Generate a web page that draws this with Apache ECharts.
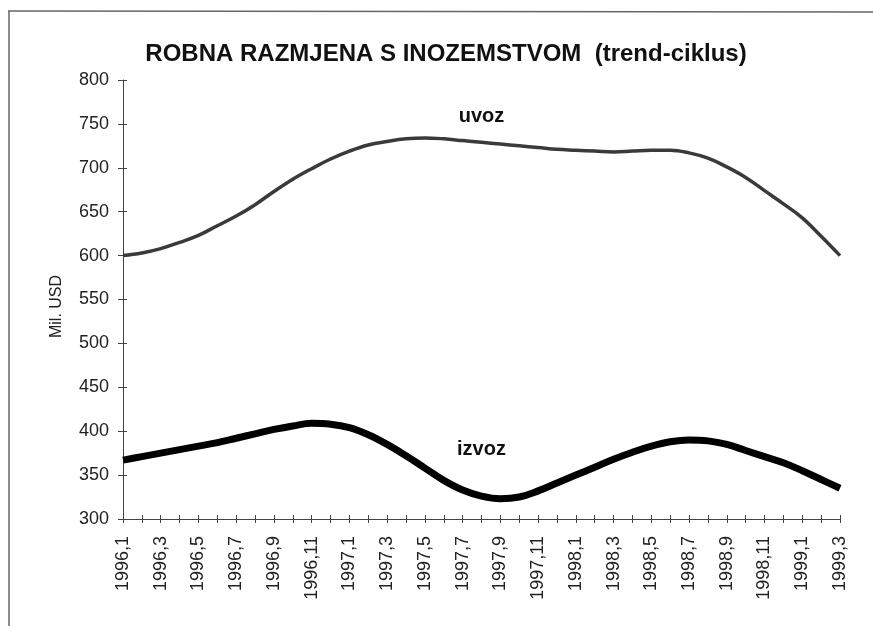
<!DOCTYPE html>
<html>
<head>
<meta charset="utf-8">
<script src="https://cdn.jsdelivr.net/npm/echarts@6/dist/echarts.min.js"></script>
<style>
  html, body { margin: 0; padding: 0; background: #fff; }
  #chart { width: 873px; height: 626px; }
</style>
</head>
<body>
<div id="chart"></div>
<script>
// mjeseci 1996,1 - 1999,3
const months = [
  '1996,1','1996,2','1996,3','1996,4','1996,5','1996,6','1996,7','1996,8','1996,9','1996,10','1996,11','1996,12',
  '1997,1','1997,2','1997,3','1997,4','1997,5','1997,6','1997,7','1997,8','1997,9','1997,10','1997,11','1997,12',
  '1998,1','1998,2','1998,3','1998,4','1998,5','1998,6','1998,7','1998,8','1998,9','1998,10','1998,11','1998,12',
  '1999,1','1999,2','1999,3'
];

const uvoz = [
  600, 603, 608, 615, 623, 634, 645, 658, 673, 687, 699, 710,
  719, 726, 730, 733, 734, 733, 731, 729, 727, 725, 723, 721,
  720, 719, 718, 719, 720, 720, 717, 711, 701, 689, 674, 659,
  643, 622, 600
];

const izvoz = [
  367, 371, 375, 379, 383, 387, 392, 397, 402, 406, 409, 408,
  404, 396, 385, 372, 358, 344, 333, 326, 323, 325, 332, 341,
  350, 359, 368, 376, 383, 388, 390, 389, 385, 378, 371, 364,
  355, 345, 335
];

// polozaj natpisa serija [mjesec, vrijednost]
const uvozLabelAt = ['1997,8', 759];
const izvozLabelAt = ['1997,8', 379];

const font = "'Liberation Sans', Arial, sans-serif";
const axisColor = '#444';

const chart = echarts.init(document.getElementById('chart'), null, { renderer: 'canvas' });

const option = {
  backgroundColor: '#fff',
  animation: false,
  title: {
    text: 'ROBNA RAZMJENA S INOZEMSTVOM  (trend-ciklus)',
    left: 441,
    textAlign: 'center',
    top: 37,
    textStyle: { fontFamily: font, fontSize: 24, fontWeight: 'bold', color: '#111' }
  },
  graphic: [
    // okvir skenirane stranice
    { type: 'line', shape: { x1: 8, y1: 11, x2: 873, y2: 12 }, style: { stroke: '#666', lineWidth: 1.5 } },
    { type: 'line', shape: { x1: 9, y1: 11, x2: 9, y2: 626 }, style: { stroke: '#666', lineWidth: 1.5 } }
  ],
  grid: { left: 123, right: 33, top: 80, bottom: 107, containLabel: false },
  xAxis: [
    {
      type: 'category',
      data: months,
      boundaryGap: false,
      position: 'bottom',
      axisLine: { lineStyle: { color: axisColor, width: 1 } },
      axisTick: { show: true, interval: 0, length: 4, lineStyle: { color: axisColor } },
      axisLabel: {
        interval: 1,
        rotate: 90,
        margin: 17,
        fontFamily: font,
        fontSize: 18,
        color: '#222'
      },
      splitLine: { show: false }
    },
    {
      // drugi dio kriznih oznaka
      type: 'category',
      data: months,
      boundaryGap: false,
      position: 'bottom',
      axisLine: { show: false },
      axisTick: { show: true, inside: true, interval: 0, length: 4, lineStyle: { color: axisColor } },
      axisLabel: { show: false },
      splitLine: { show: false }
    }
  ],
  yAxis: [
    {
      type: 'value',
      min: 300,
      max: 800,
      interval: 50,
      name: 'Mil. USD',
      nameLocation: 'middle',
      nameRotate: 90,
      nameGap: 58,
      nameTextStyle: { fontFamily: font, fontSize: 16, color: '#222', padding: [0, 14, 0, 0] },
      axisLine: { show: true, lineStyle: { color: axisColor, width: 1 } },
      axisTick: { show: true, length: 5, lineStyle: { color: axisColor } },
      axisLabel: { margin: 14, fontFamily: font, fontSize: 18, color: '#222' },
      splitLine: { show: false }
    },
    {
      type: 'value',
      min: 300,
      max: 800,
      interval: 50,
      position: 'left',
      offset: 0,
      axisLine: { show: false },
      axisTick: { show: true, inside: true, length: 4, lineStyle: { color: axisColor } },
      axisLabel: { show: false },
      splitLine: { show: false }
    }
  ],
  series: [
    {
      name: 'uvoz',
      type: 'line',
      data: uvoz,
      smooth: 0.4,
      showSymbol: false,
      lineStyle: { color: '#3a3a3a', width: 3.5 },
      markPoint: {
        symbol: 'circle',
        symbolSize: 0,
        data: [{ coord: uvozLabelAt, value: 'uvoz' }],
        label: { show: true, formatter: 'uvoz', fontFamily: font, fontSize: 20, fontWeight: 'bold', color: '#111' }
      }
    },
    {
      name: 'izvoz',
      type: 'line',
      data: izvoz,
      smooth: 0.4,
      showSymbol: false,
      lineStyle: { color: '#000', width: 7 },
      markPoint: {
        symbol: 'circle',
        symbolSize: 0,
        data: [{ coord: izvozLabelAt, value: 'izvoz' }],
        label: { show: true, formatter: 'izvoz', fontFamily: font, fontSize: 20, fontWeight: 'bold', color: '#111' }
      }
    }
  ]
};

chart.setOption(option);
window.onresize = function () {
  chart.resize();
};
</script>
</body>
</html>
